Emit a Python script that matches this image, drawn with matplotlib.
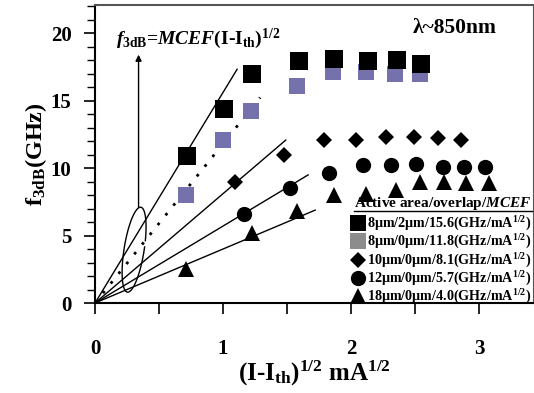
import numpy as np
import matplotlib
matplotlib.use('Agg')
import matplotlib.pyplot as plt
from matplotlib.lines import Line2D

plt.rcParams['font.family'] = ['Liberation Serif', 'DejaVu Serif']
plt.rcParams['font.weight'] = 'bold'
plt.rcParams['axes.labelweight'] = 'bold'
plt.rcParams['mathtext.fontset'] = 'custom'
plt.rcParams['mathtext.rm'] = 'Liberation Serif:bold'
plt.rcParams['mathtext.it'] = 'Liberation Serif:bold:italic'
plt.rcParams['mathtext.bf'] = 'Liberation Serif:bold'

# measured data: x = (I-Ith)^1/2 [mA^1/2], y = f3dB [GHz]
x_sq8_2 = [0.72, 1.01, 1.23, 1.59, 1.87, 2.13, 2.36, 2.55]
y_sq8_2 = [10.9, 14.4, 17.0, 17.9, 18.1, 17.9, 18.0, 17.7]

x_sq8_0 = [0.71, 1.00, 1.22, 1.58, 1.86, 2.12, 2.34, 2.54]
y_sq8_0 = [8.0, 12.1, 14.2, 16.1, 17.1, 17.1, 17.0, 17.0]

x_dia10 = [1.09, 1.48, 1.79, 2.04, 2.27, 2.49, 2.68, 2.86]
y_dia10 = [9.0, 11.0, 12.1, 12.1, 12.3, 12.3, 12.2, 12.1]

x_cir12 = [1.16, 1.52, 1.83, 2.09, 2.31, 2.51, 2.72, 2.88, 3.05]
y_cir12 = [6.6, 8.5, 9.6, 10.2, 10.2, 10.3, 10.1, 10.1, 10.1]

x_tri18 = [0.71, 1.23, 1.58, 1.87, 2.12, 2.35, 2.54, 2.73, 2.90, 3.08]
y_tri18 = [2.5, 5.2, 6.8, 8.0, 8.1, 8.4, 9.0, 9.0, 8.9, 8.9]

# MCEF fit slopes and where each fit line ends
mcef = [15.6, 11.8, 8.1, 5.7, 4.0]
fit_end = [1.11, 1.29, 1.49, 1.665, 1.72]
labels = ['8\u03bcm/2\u03bcm/15.6(GHz/mA$^{\\rm 1/2}$)',
          '8\u03bcm/0\u03bcm/11.8(GHz/mA$^{\\rm 1/2}$)',
          '10\u03bcm/0\u03bcm/8.1(GHz/mA$^{\\rm 1/2}$)',
          '12\u03bcm/0\u03bcm/5.7(GHz/mA$^{\\rm 1/2}$)',
          '18\u03bcm/0\u03bcm/4.0(GHz/mA$^{\\rm 1/2}$)']

purple = '#7471ad'

fig = plt.figure(figsize=(5.34, 3.93), dpi=100)
ax = fig.add_axes([0.178, 0.229, 0.822, 0.758])

# fit lines through origin
styles = ['-', (0, (1, 3.5)), '-', '-', '-']
widths = [1.0, 2.0, 1.0, 1.0, 1.0]
for k, (m, xe) in enumerate(zip(mcef, fit_end)):
    xx = np.array([0, xe])
    ax.plot(xx, m * xx, color='black', linestyle=styles[k], lw=widths[k], zorder=2)

ax.plot(x_sq8_2, y_sq8_2, 's', color='black', ms=12.5, mew=0, zorder=4)
ax.plot(x_sq8_0, y_sq8_0, 's', color=purple, ms=11, mew=0, zorder=3)
ax.plot(x_dia10, y_dia10, 'D', color='black', ms=8.5, mew=0, zorder=3)
ax.plot(x_cir12, y_cir12, 'o', color='black', ms=11, mew=0, zorder=3)
ax.plot(x_tri18, y_tri18, '^', color='black', ms=11.5, mew=0, zorder=3)

# loop around the fit lines and arrow to the formula
sx, sy = 127.5, 13.5  # px per data unit
t = np.linspace(0.25, 2 * np.pi + 0.1, 200)
a_px, b_px, ang = 10.0, 43.0, np.deg2rad(-9)
ex = a_px * np.cos(t)
ey = b_px * np.sin(t)
rx = ex * np.cos(ang) - ey * np.sin(ang)
ry = ex * np.sin(ang) + ey * np.cos(ang)
ax.plot(0.305 + rx / sx, 3.95 + ry / sy, color='black', lw=1.0, zorder=2)
ax.annotate('', xy=(0.34, 18.4), xytext=(0.34, 7.1),
            arrowprops=dict(arrowstyle='-|>', color='black', lw=1.0,
                            mutation_scale=9, shrinkA=0, shrinkB=0))

ax.text(0.16, 19.6, r'$f_{\rm 3dB}$=$MCEF$(I-I$_{\rm th}$)$^{\rm 1/2}$',
        fontsize=14, va='center', ha='left')
ax.text(2.81, 20.4, '\u03bb~850nm', fontsize=15.5, va='center', ha='center')

ax.set_xlim(0, 3.43)
ax.set_ylim(0, 22.07)
ax.set_xticks([0, 1, 2, 3])
ax.set_xticks([0.5, 1.5, 2.5], minor=True)
ax.set_yticks([0, 5, 10, 15, 20])
ax.set_yticks(np.arange(0, 23, 1), minor=True)
ax.tick_params(axis='both', which='major', labelsize=15, length=8, width=1.2, direction='out')
ax.tick_params(axis='x', which='minor', length=8, width=1.2, direction='out')
ax.tick_params(axis='y', which='minor', length=6, width=1.0, direction='out')
ax.tick_params(axis='x', which='major', pad=18)
ax.tick_params(axis='y', which='major', pad=9)
for s in ax.spines.values():
    s.set_color('#555555')
    s.set_linewidth(1.5)
ax.spines['left'].set_color('black')
ax.spines['bottom'].set_color('black')

ax.set_ylabel(r'f$_{\rm 3dB}$(GHz)', fontsize=17.5, labelpad=1)
ax.set_xlabel(r'(I-I$_{\rm th}$)$^{\rm 1/2}$ mA$^{\rm 1/2}$', fontsize=18, labelpad=0)

handles = [
    Line2D([], [], marker='s', color='black', ls='none', ms=11, mew=0),
    Line2D([], [], marker='s', color='#8c8c8c', ls='none', ms=11, mew=0),
    Line2D([], [], marker='D', color='black', ls='none', ms=8, mew=0),
    Line2D([], [], marker='o', color='black', ls='none', ms=11, mew=0),
    Line2D([], [], marker='^', color='black', ls='none', ms=11, mew=0),
]
leg = ax.legend(handles, labels, loc='upper left', bbox_to_anchor=(0.583, 0.362),
                frameon=False, fontsize=10.2, handlelength=0.95, handletextpad=0.2,
                borderaxespad=0, borderpad=0, labelspacing=0.0,
                title='Active area/overlap/$MCEF$',
                title_fontproperties={'size': 11, 'weight': 'bold'})
leg._legend_box.align = 'right'
leg._legend_box.sep = 2

fig.canvas.draw()
tb = leg.get_title().get_window_extent()
inv = fig.transFigure.inverted()
(x0, y0), (x1, y1) = inv.transform([(tb.x0, tb.y0), (tb.x1, tb.y0)])
fig.add_artist(Line2D([x0, x1], [y0 + 0.002, y1 + 0.002], color='black', lw=1.0,
                      transform=fig.transFigure))

fig.savefig('out.png', dpi=100)
